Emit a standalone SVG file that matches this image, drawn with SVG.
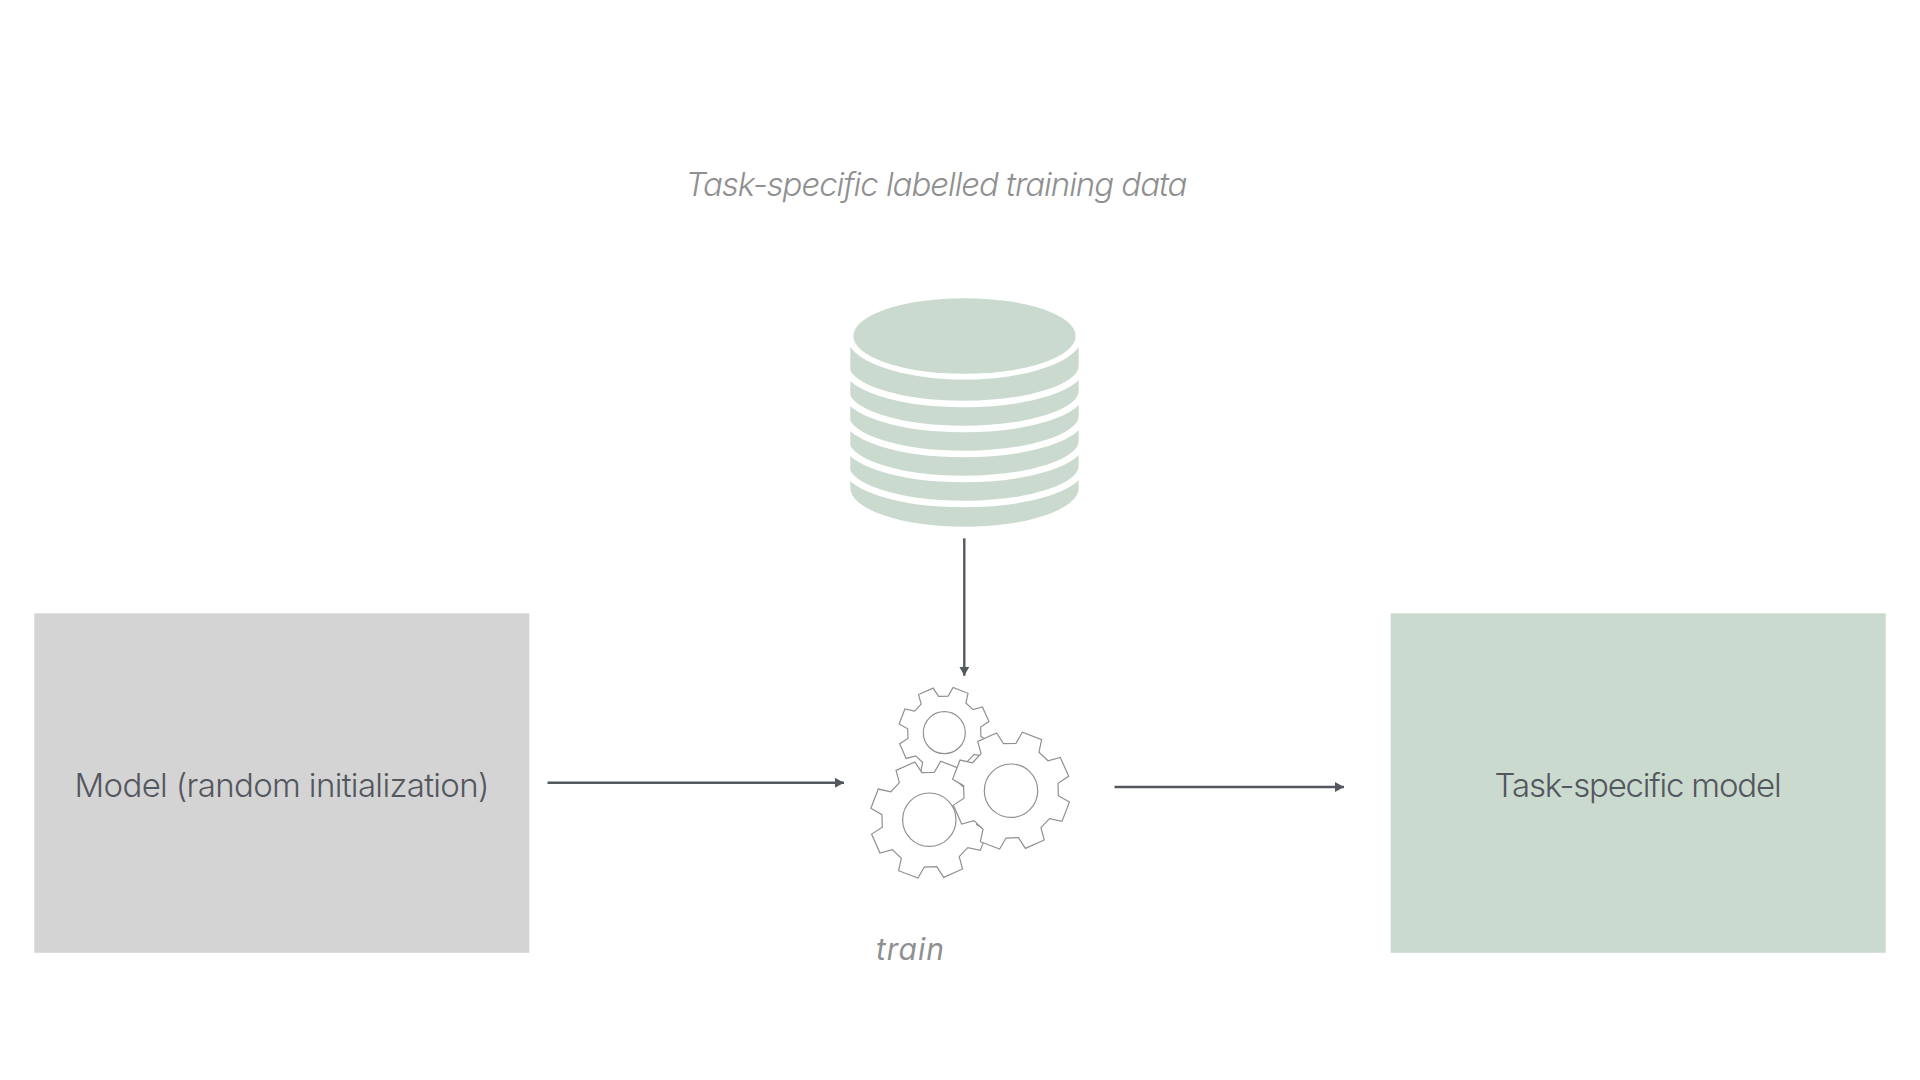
<svg xmlns="http://www.w3.org/2000/svg" width="1920" height="1080" viewBox="0 0 1920 1080">
<style>
text{font-family:"Inter","Liberation Sans",sans-serif}
.lbl{font-size:33px;font-weight:300;fill:#53575e}
.cap{font-size:33px;font-weight:300;font-style:italic;fill:#8f9091}
.green{fill:#cbdacf}
.sep{fill:none;stroke:#fff;stroke-width:6.5}
.cogshape{vector-effect:non-scaling-stroke}
.gear{fill:#fff;stroke:#909090;stroke-width:1.2}
.hub{fill:none;stroke:#909090;stroke-width:1.2}
.conn{stroke:#53575e;stroke-width:2.4;fill:none;marker-end:url(#arrow)}
</style>
<defs>
<marker id="arrow" markerUnits="userSpaceOnUse" markerWidth="10" markerHeight="10" refX="9" refY="5" orient="auto"><path d="M0 0L9 5L0 10Z" fill="#53575e"/></marker>
<polygon id="cog" class="cogshape" points="79.6,8.4 98.2,19.1 85.7,51.5 64.7,47 50.3,62.2 55.9,82.9 24.2,97 12.5,79 -8.4,79.6 -19.1,98.2 -51.5,85.7 -47,64.7 -62.2,50.3 -82.9,55.9 -97,24.2 -79,12.5 -79.6,-8.4 -98.2,-19.1 -85.7,-51.5 -64.7,-47 -50.3,-62.2 -55.9,-82.9 -24.2,-97 -12.5,-79 8.4,-79.6 19.1,-98.2 51.5,-85.7 47,-64.7 62.2,-50.3 82.9,-55.9 97,-24.2 79,-12.5"/>
</defs>
<rect width="1920" height="1080" fill="#fff"/>
<g id="caption-data"><text class="cap" x="685.5" y="196" textLength="502" lengthAdjust="spacing">Task-specific labelled training data</text></g>
<g id="database">
<path class="green" d="M850.3 336V488A114.2 38.7 0 0 0 1078.7 488V336Z"/>
<path class="sep" d="M846 366A118 38 0 0 0 1082 366"/>
<path class="sep" d="M846 391A118 38 0 0 0 1082 391"/>
<path class="sep" d="M846 416A118 38 0 0 0 1082 416"/>
<path class="sep" d="M846 441A118 38 0 0 0 1082 441"/>
<path class="sep" d="M846 466A118 38 0 0 0 1082 466"/>
<ellipse cx="964.5" cy="336" rx="118" ry="43.5" fill="#fff"/>
<ellipse class="green" cx="964.5" cy="336" rx="111.2" ry="37.8"/>
</g>
<g id="model-random"><rect x="34.3" y="613.3" width="495" height="339.5" fill="#d4d4d4"/><text class="lbl" x="74.5" y="796.7" textLength="415" lengthAdjust="spacing">Model (random initialization)</text></g>
<g id="model-task"><rect x="1390.7" y="613.3" width="495" height="339.5" class="green"/><text class="lbl" x="1494.6" y="796.7" textLength="287" lengthAdjust="spacing">Task-specific model</text></g>
<g id="train">
<use href="#cog" class="gear" transform="translate(944.3 732.7) scale(.46)"/>
<use href="#cog" class="gear" transform="translate(929.3 819.7) scale(.595)"/>
<use href="#cog" class="gear" transform="translate(1011 790.7) scale(.595)"/>
<circle class="hub" cx="944.3" cy="732.7" r="21"/>
<circle class="hub" cx="929.3" cy="819.7" r="26.7"/>
<circle class="hub" cx="1011" cy="790.7" r="26.7"/>
<text x="876" y="960" font-size="30" font-weight="450" font-style="italic" fill="#8f9091" textLength="68" lengthAdjust="spacing">train</text>
</g>
<g id="connectors">
<line class="conn" x1="964.3" y1="538.3" x2="964.3" y2="675.7"/>
<line class="conn" x1="547.5" y1="782.8" x2="844" y2="782.8"/>
<line class="conn" x1="1114.5" y1="787" x2="1344" y2="787"/>
</g>
</svg>
